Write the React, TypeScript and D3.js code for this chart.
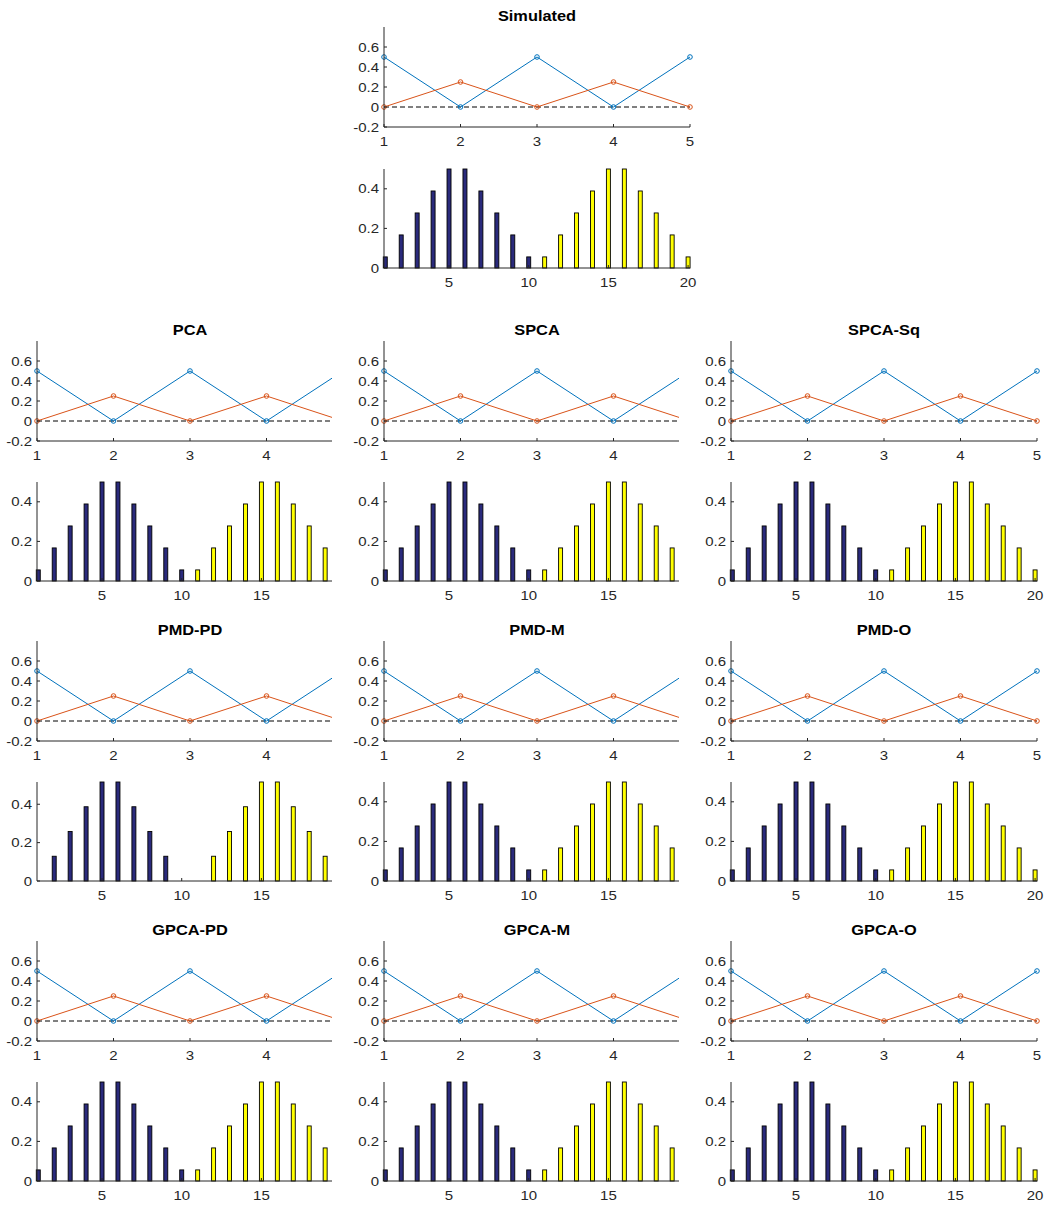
import React from "react";
import { scaleLinear } from "d3";

// line plot (the two simulated components)
const lineX = [1, 2, 3, 4, 5];
const blueLine = [0.5, 0, 0.5, 0, 0.5];
const redLine = [0, 0.25, 0, 0.25, 0];
const lineYTicks = [-0.2, 0, 0.2, 0.4, 0.6];
const lineXTicks = [1, 2, 3, 4, 5];

// bar plot (loadings of the 20 variables)
const barXFirst = [1, 2, 3, 4, 5, 6, 7, 8, 9, 10];
const barXSecond = [11, 12, 13, 14, 15, 16, 17, 18, 19, 20];
const loadFirst = [0.056, 0.167, 0.278, 0.389, 0.5, 0.5, 0.389, 0.278, 0.167, 0.056];
const loadSecond = [0.056, 0.167, 0.278, 0.389, 0.5, 0.5, 0.389, 0.278, 0.167, 0.056];
const pdFirst = [0, 0.129, 0.258, 0.387, 0.516, 0.516, 0.387, 0.258, 0.129, 0];
const pdSecond = [0, 0.129, 0.258, 0.387, 0.516, 0.516, 0.387, 0.258, 0.129, 0];
const barYTicks = [0, 0.2, 0.4];
const barXTicks = [5, 10, 15, 20];

const titles = ["Simulated", "PCA", "SPCA", "SPCA-Sq", "PMD-PD", "PMD-M", "PMD-O", "GPCA-PD", "GPCA-M", "GPCA-O"];

// layout: column, row, whether the right part is cut off, which loadings
const layout: { [k: string]: { col: number; row: number; cut: boolean; pd?: boolean } } = {
  Simulated: { col: 1, row: 0, cut: false },
  PCA: { col: 0, row: 1, cut: true },
  SPCA: { col: 1, row: 1, cut: true },
  "SPCA-Sq": { col: 2, row: 1, cut: false },
  "PMD-PD": { col: 0, row: 2, cut: true, pd: true },
  "PMD-M": { col: 1, row: 2, cut: true },
  "PMD-O": { col: 2, row: 2, cut: false },
  "GPCA-PD": { col: 0, row: 3, cut: true },
  "GPCA-M": { col: 1, row: 3, cut: true },
  "GPCA-O": { col: 2, row: 3, cut: false },
};

const colLeft = [37, 384, 731];
const lineTops = [27, 341, 641, 941];
const barBottoms = [268, 581, 881, 1181];
const W = 306;
const AX = "#262626";
const FONT = "'Liberation Sans', Arial, Helvetica, sans-serif";

const fmt = (v: number) => (v === 0 ? "0" : String(v));

function Label({ x, y, anchor, children }: any) {
  return (
    <text
      transform={`translate(${x},${y}) scale(1.2,1)`}
      textAnchor={anchor}
      fontSize={12.5}
      fill={AX}
      fontFamily={FONT}
    >
      {children}
    </text>
  );
}

function Panel({ title, idx }: { title: string; idx: number }) {
  const cfg = layout[title];
  const left = colLeft[cfg.col];
  const top = lineTops[cfg.row];
  const bBottom = barBottoms[cfg.row];
  const first = cfg.pd ? pdFirst : loadFirst;
  const second = cfg.pd ? pdSecond : loadSecond;
  const barMax = Math.max(...first, ...second);

  const x = scaleLinear().domain([1, 5]).range([left, left + W]);
  const y = scaleLinear().domain([-0.2, 0.8]).range([top + 100, top]);
  const xb = scaleLinear().domain([0.92, 20.12]).range([left, left + W]);
  const yb = scaleLinear().domain([0, barMax]).range([bBottom, bBottom - 99]);
  const bw = xb(0.25) - xb(0);

  const clipId = `clip-${idx}`;
  const clipW = cfg.cut ? 295 : 330;

  const path = (vals: number[]) =>
    vals.map((v, i) => `${i ? "L" : "M"}${x(lineX[i])},${y(v)}`).join("");

  return (
    <g>
      <defs>
        <clipPath id={clipId}>
          <rect x={left - 40} y={top - 30} width={clipW + 40} height={bBottom - top + 60} />
        </clipPath>
      </defs>
      <text
        transform={`translate(${left + W / 2},${top - 6}) scale(1.17,1)`}
        textAnchor="middle"
        fontSize={14}
        fontWeight="bold"
        fontFamily={FONT}
        fill="#000"
      >
        {title}
      </text>
      <g clipPath={`url(#${clipId})`}>
        {/* line axes */}
        <line x1={left} x2={left + W} y1={y(0)} y2={y(0)} stroke="#000" strokeDasharray="5,3" />
        <path d={path(blueLine)} fill="none" stroke="#0072BD" strokeWidth={1} />
        <path d={path(redLine)} fill="none" stroke="#D95319" strokeWidth={1} />
        {blueLine.map((v, i) => (
          <circle key={"b" + i} cx={x(lineX[i])} cy={y(v)} r={2.3} fill="none" stroke="#0072BD" />
        ))}
        {redLine.map((v, i) => (
          <circle key={"r" + i} cx={x(lineX[i])} cy={y(v)} r={2.3} fill="none" stroke="#D95319" />
        ))}
        <line x1={left} x2={left} y1={top} y2={top + 100} stroke={AX} />
        <line x1={left} x2={left + W} y1={top + 100} y2={top + 100} stroke={AX} />
        {lineXTicks.map((t) => (
          <g key={"lx" + t}>
            <line x1={x(t)} x2={x(t)} y1={top + 100} y2={top + 97} stroke={AX} />
            <Label x={x(t)} y={top + 119} anchor="middle">{fmt(t)}</Label>
          </g>
        ))}
        {lineYTicks.map((t) => (
          <g key={"ly" + t}>
            <line x1={left} x2={left + 3} y1={y(t)} y2={y(t)} stroke={AX} />
            <Label x={left - 5} y={y(t) + 4.5} anchor="end">{fmt(t)}</Label>
          </g>
        ))}

        {/* bar axes */}
        {first.map((v, i) => (
          <rect
            key={"f" + i}
            x={xb(barXFirst[i]) - bw / 2}
            y={yb(v)}
            width={bw}
            height={yb(0) - yb(v)}
            fill="#2a2a7c"
            stroke="#000"
            strokeWidth={0.9}
          />
        ))}
        {second.map((v, i) => (
          <rect
            key={"s" + i}
            x={xb(barXSecond[i]) - bw / 2}
            y={yb(v)}
            width={bw}
            height={yb(0) - yb(v)}
            fill="#ffff00"
            stroke="#000"
            strokeWidth={0.9}
          />
        ))}
        <line x1={left} x2={left} y1={bBottom - 99} y2={bBottom} stroke={AX} />
        <line x1={left} x2={left + W} y1={bBottom} y2={bBottom} stroke={AX} />
        {barXTicks.map((t) => (
          <g key={"bx" + t}>
            <line x1={xb(t)} x2={xb(t)} y1={bBottom} y2={bBottom - 3} stroke={AX} />
            <Label x={xb(t)} y={bBottom + 18.5} anchor="middle">{fmt(t)}</Label>
          </g>
        ))}
        {barYTicks.map((t) => (
          <g key={"by" + t}>
            <line x1={left} x2={left + 3} y1={yb(t)} y2={yb(t)} stroke={AX} />
            <Label x={left - 5} y={yb(t) + 4.5} anchor="end">{fmt(t)}</Label>
          </g>
        ))}
      </g>
    </g>
  );
}

export default function App() {
  return (
    <svg
      width={1045}
      height={1205}
      style={{ position: "absolute", left: 0, top: 0, background: "#fff" }}
    >
      <rect width={1045} height={1205} fill="#fff" />
      {titles.map((t, i) => (
        <Panel key={t} title={t} idx={i} />
      ))}
    </svg>
  );
}
